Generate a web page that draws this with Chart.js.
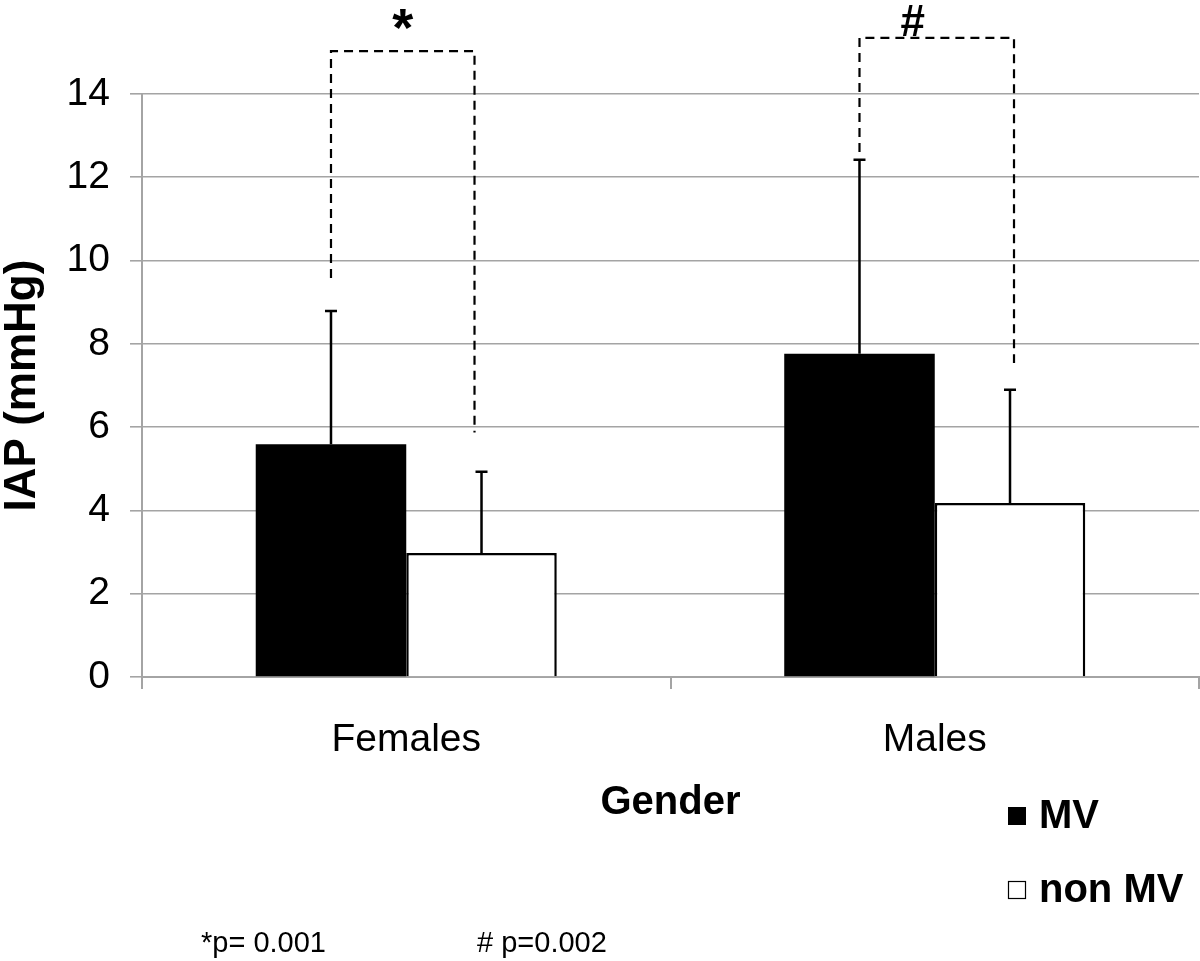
<!DOCTYPE html>
<html>
<head>
<meta charset="utf-8">
<script src="https://cdn.jsdelivr.net/npm/chart.js@4/dist/chart.umd.min.js"></script>
<style>
  html, body { margin: 0; padding: 0; background: #ffffff; }
  #wrap { position: relative; width: 1200px; height: 961px; }
</style>
</head>
<body>
<div id="wrap"><canvas id="c" width="1200" height="961"></canvas></div>
<script>
// ---- data ----
const categories = ['Females', 'Males'];
const seriesNames = ['MV', 'non MV'];
const mvValues = [5.59, 7.76];
const nonMvValues = [2.98, 4.18];
const mvErrors = [3.20, 4.66];
const nonMvErrors = [1.95, 2.72];
const yTickValues = [0, 2, 4, 6, 8, 10, 12, 14];
const bracketLabels = ['*', '#'];
const bracketTop = [15.03, 15.35];
const bracketLeftEnd = [9.58, 12.61];
const bracketRightEnd = [5.87, 7.54];
const footnotes = ['*p= 0.001', '# p=0.002'];
const yTitle = 'IAP (mmHg)';
const xTitle = 'Gender';

const FONT = '"Liberation Sans", Arial, Helvetica, sans-serif';
const GRID = '#a4a4a4';

const errorBarsPlugin = {
  id: 'errorBars',
  afterDatasetsDraw(chart) {
    const ctx = chart.ctx;
    const y = chart.scales.y;
    const errs = [mvErrors, nonMvErrors];
    ctx.save();
    ctx.strokeStyle = '#000';
    ctx.lineWidth = 2.5;
    chart.data.datasets.forEach((ds, di) => {
      const meta = chart.getDatasetMeta(di);
      meta.data.forEach((bar, i) => {
        const v = ds.data[i];
        const top = y.getPixelForValue(v + errs[di][i]);
        const base = y.getPixelForValue(v);
        ctx.beginPath();
        ctx.moveTo(bar.x, base);
        ctx.lineTo(bar.x, top);
        ctx.moveTo(bar.x - 6, top);
        ctx.lineTo(bar.x + 6, top);
        ctx.stroke();
      });
    });
    ctx.restore();
  }
};

const annotPlugin = {
  id: 'annot',
  afterDraw(chart) {
    const ctx = chart.ctx;
    const y = chart.scales.y;
    const m0 = chart.getDatasetMeta(0).data;
    const m1 = chart.getDatasetMeta(1).data;
    const rightShift = [-7, 4];
    ctx.save();
    // significance brackets
    ctx.strokeStyle = '#000';
    ctx.lineWidth = 2.2;
    ctx.setLineDash([9, 6]);
    categories.forEach((c, i) => {
      const xl = m0[i].x;
      const xr = m1[i].x + rightShift[i];
      const yt = y.getPixelForValue(bracketTop[i]);
      ctx.beginPath();
      ctx.moveTo(xl, y.getPixelForValue(bracketLeftEnd[i]));
      ctx.lineTo(xl, yt);
      ctx.lineTo(xr, yt);
      ctx.lineTo(xr, y.getPixelForValue(bracketRightEnd[i]));
      ctx.stroke();
    });
    ctx.setLineDash([]);
    // bracket symbols
    ctx.fillStyle = '#000';
    ctx.textAlign = 'center';
    ctx.textBaseline = 'middle';
    ctx.font = 'bold 54px ' + FONT;
    ctx.fillText(bracketLabels[0], (m0[0].x + m1[0].x + rightShift[0]) / 2, y.getPixelForValue(bracketTop[0]) - 20);
    ctx.font = 'bold 44px ' + FONT;
    ctx.fillText(bracketLabels[1], (m0[1].x + m1[1].x + rightShift[1]) / 2 - 24, y.getPixelForValue(bracketTop[1]) - 14);
    // legend
    const ds = chart.data.datasets;
    const legendY = [816, 890];
    ds.forEach((d, i) => {
      const ly = legendY[i];
      ctx.fillStyle = d.backgroundColor;
      ctx.fillRect(1008, ly - 9, 18, 18);
      if (i === 1) {
        ctx.strokeStyle = '#000';
        ctx.lineWidth = 1.2;
        ctx.strokeRect(1008.5, ly - 8.5, 17, 17);
      }
      ctx.fillStyle = '#000';
      ctx.textAlign = 'left';
      ctx.textBaseline = 'middle';
      ctx.font = 'bold 40px ' + FONT;
      ctx.fillText(d.label, 1039, ly + 1);
    });
    // footnotes
    ctx.font = '29px ' + FONT;
    ctx.textBaseline = 'middle';
    ctx.fillText(footnotes[0], 201, 944);
    ctx.fillText(footnotes[1], 477, 944);
    ctx.restore();
  }
};

new Chart(document.getElementById('c'), {
  type: 'bar',
  data: {
    labels: categories,
    datasets: [
      { label: seriesNames[0], data: mvValues, backgroundColor: '#000000', borderColor: '#000000', borderWidth: 0 },
      { label: seriesNames[1], data: nonMvValues, backgroundColor: '#ffffff', borderColor: '#000000', borderWidth: 2.5, borderSkipped: 'bottom' }
    ]
  },
  options: {
    responsive: false,
    animation: false,
    devicePixelRatio: 1,
    categoryPercentage: 0.5696,
    barPercentage: 1.0,
    layout: { padding: { top: 94, right: 1, bottom: 134, left: 0 } },
    plugins: { legend: { display: false }, tooltip: { enabled: false } },
    scales: {
      x: {
        grid: { display: true, drawOnChartArea: false, drawTicks: true, tickLength: 12, color: GRID, lineWidth: 2, offset: true },
        border: { display: true, color: GRID, width: 2 },
        ticks: { color: '#000', font: { family: FONT, size: 39 }, padding: 28 },
        title: { display: true, text: xTitle, color: '#000', font: { family: FONT, size: 40, weight: 'bold' }, padding: { top: 0, bottom: 0 } },
        afterFit(scale) { scale.height = 150; }
      },
      y: {
        min: 0, max: 14,
        afterBuildTicks(scale) { scale.ticks = yTickValues.map(v => ({ value: v })); },
        grid: { color: GRID, lineWidth: 1.6, tickLength: 12, drawTicks: true },
        border: { display: true, color: GRID, width: 2 },
        ticks: { color: '#000', font: { family: FONT, size: 39 }, padding: 20 },
        title: { display: true, text: yTitle, color: '#000', font: { family: FONT, size: 44, weight: 'bold', lineHeight: 1.05 }, padding: { top: 0, bottom: 0 } },
        afterFit(scale) { scale.width = 142; }
      }
    }
  },
  plugins: [errorBarsPlugin, annotPlugin]
});
</script>
</body>
</html>
